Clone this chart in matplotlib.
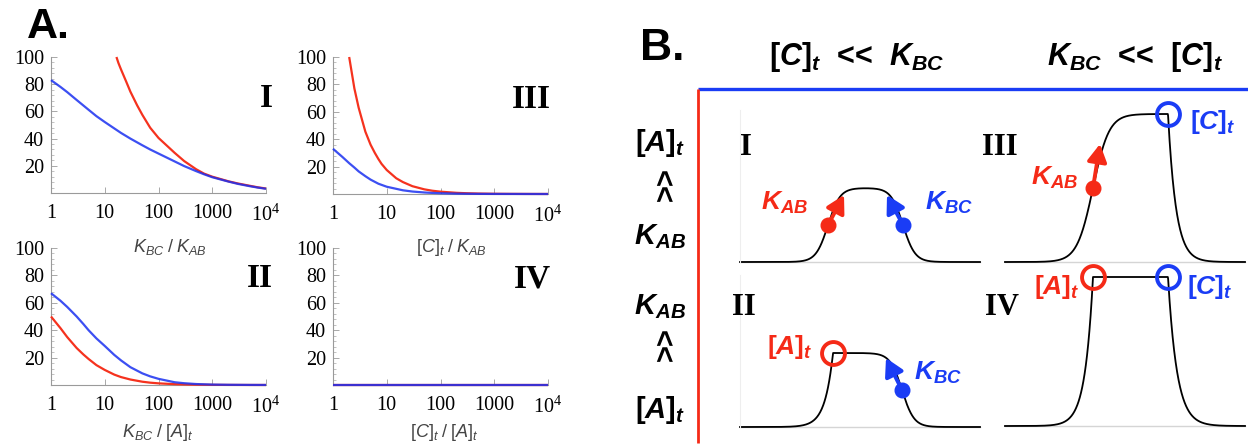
import numpy as np
import matplotlib
matplotlib.use('Agg')
import matplotlib.pyplot as plt
from matplotlib.ticker import LogLocator, MultipleLocator, NullFormatter

plt.rcParams['font.family'] = ['Liberation Serif', 'DejaVu Serif']
plt.rcParams['mathtext.fontset'] = 'custom'
plt.rcParams['mathtext.rm'] = 'Liberation Serif'
plt.rcParams['mathtext.sf'] = 'Liberation Sans'
plt.rcParams['mathtext.it'] = 'Liberation Sans:italic'
plt.rcParams['mathtext.bf'] = 'Liberation Sans:bold'
try:
    plt.rcParams['mathtext.bfit'] = 'Liberation Sans:italic:bold'
except Exception:
    pass

# ---------------- Panel A data ----------------
x_I_blue = [1, 1.5, 2, 3, 5, 7, 10, 20, 30, 50, 70, 100, 200, 300, 500, 700, 1000, 2000, 3000, 5000, 7000, 10000]
blue_I = [83, 78, 74.2, 68.4, 61.2, 56.5, 52.2, 44.2, 40, 35.1, 32, 29, 23.2, 19.8, 16.1, 13.8, 11.6, 8.4, 6.7, 5, 4, 3.1]
x_I_red = [16.5, 18, 20, 25, 30, 40, 50, 70, 100, 200, 300, 500, 700, 1000, 2000, 3000, 5000, 7000, 10000]
red_I = [100, 95.5, 91, 82, 74.5, 64.5, 57.5, 48, 40.5, 29.5, 23.5, 17.5, 14.3, 12, 8.6, 7, 5.3, 4.2, 3.3]

x_III_blue = [1, 1.5, 2, 2.5, 3, 4, 5, 7, 10, 20, 30, 50, 70, 100, 200, 300, 500, 1000, 2000, 5000, 10000]
blue_III = [33, 27, 22.5, 19.3, 16.5, 13, 10.5, 7.5, 5.3, 2.7, 1.8, 1.1, 0.8, 0.55, 0.27, 0.18, 0.1, 0.05, 0.03, 0.01, 0]
x_III_red = [2, 2.5, 3, 4, 5, 6, 7, 8, 10, 15, 20, 30, 50, 70, 100, 200, 300, 500, 1000, 2000, 5000, 10000]
red_III = [100, 77, 63, 45.5, 36, 30, 25.5, 22, 17.5, 11.5, 8.7, 5.7, 3.4, 2.4, 1.7, 0.85, 0.57, 0.34, 0.17, 0.09, 0.04, 0.02]

x_II = [1, 1.5, 2, 3, 4, 5, 7, 10, 15, 20, 30, 50, 70, 100, 200, 300, 500, 1000, 2000, 5000, 10000]
blue_II = [67, 61.5, 57, 50, 44.5, 40, 34, 28.5, 22, 18, 13, 8.5, 6.3, 4.5, 2, 1.3, 0.7, 0.3, 0.15, 0.06, 0.03]
red_II = [50, 41.5, 35, 27, 22.3, 19, 14.5, 11, 7.6, 5.8, 4, 2.4, 1.7, 1.2, 0.6, 0.4, 0.24, 0.12, 0.06, 0.02, 0.01]

x_IV = [1, 10000]
blue_IV = [0, 0]
red_IV = [0, 0]

x_ticks = [1, 10, 100, 1000, 10000]
x_ticklabels = ['1', '10', '100', '1000', r'$\mathrm{10}^{\mathrm{4}}$']
y_ticks = [20, 40, 60, 80, 100]

RED = '#f5321e'
BLUE = '#1a30f0'

W, H = 1248, 448
fig = plt.figure(figsize=(W / 100, H / 100), dpi=100)


def px_axes(l, t, r, b, **kw):
    return fig.add_axes([l / W, 1 - b / H, (r - l) / W, (b - t) / H], **kw)


def style(ax):
    ax.set_xscale('log')
    ax.set_xlim(1, 1e4)
    ax.set_ylim(0, 100)
    for s in ['top', 'right']:
        ax.spines[s].set_visible(False)
    for s in ['left', 'bottom']:
        ax.spines[s].set_color('#9a9a9a')
        ax.spines[s].set_linewidth(0.8)
    ax.set_xticks(x_ticks)
    ax.set_xticklabels(x_ticklabels)
    ax.xaxis.set_minor_locator(LogLocator(base=10, subs=range(2, 10)))
    ax.xaxis.set_minor_formatter(NullFormatter())
    ax.set_yticks(y_ticks)
    ax.yaxis.set_minor_locator(MultipleLocator(4))
    ax.tick_params(which='major', direction='in', length=4, width=0.6, color='#9a9a9a', labelsize=14.5)
    ax.tick_params(which='minor', direction='in', length=2, width=0.5, color='#aaaaaa')
    ax.tick_params(axis='x', pad=8)
    ax.tick_params(axis='y', pad=5)
    ax.patch.set_alpha(0)


panels = [
    ((51, 57, 266, 193), (x_I_blue, blue_I), (x_I_red, red_I), 'I', (273, 107),
     r'$K_{BC}\;\mathsf{/}\;K_{AB}$', (170, 247)),
    ((333, 57, 548, 194), (x_III_blue, blue_III), (x_III_red, red_III), 'III', (551, 108),
     r'$\mathsf{[}C\mathsf{]}_t\;\mathsf{/}\;K_{AB}$', (451, 247)),
    ((51, 248, 266, 385), (x_II, blue_II), (x_II, red_II), 'II', (273, 287),
     r'$K_{BC}\;\mathsf{/}\;\mathsf{[}A\mathsf{]}_t$', (158, 432)),
    ((333, 248, 548, 385), (x_IV, blue_IV), (x_IV, red_IV), 'IV', (551, 287),
     r'$\mathsf{[}C\mathsf{]}_t\;\mathsf{/}\;\mathsf{[}A\mathsf{]}_t$', (444, 432)),
]

for box, (xb, yb), (xr, yr), roman, rpos, xl, xlpos in panels:
    ax = px_axes(*box)
    style(ax)
    ax.plot(xr, yr, color=RED, lw=1.6, clip_on=False, zorder=3, solid_capstyle='butt')
    ax.plot(xb, yb, color=BLUE, lw=1.6, alpha=0.85, clip_on=False, zorder=4, solid_capstyle='butt')
    fig.text(rpos[0] / W, 1 - rpos[1] / H, roman, ha='right', va='baseline',
             fontsize=24, fontweight='bold', family='Liberation Serif')
    fig.text(xlpos[0] / W, 1 - xlpos[1] / H, xl, ha='center', va='center',
             fontsize=13, color='#444444')

fig.text(27 / W, 1 - 38 / H, 'A.', ha='left', va='baseline', fontsize=31,
         fontweight='bold', family='Liberation Sans')

# ---------------- Panel B schematic ----------------
axb = fig.add_axes([0, 0, 1, 1], facecolor='none')
axb.set_xlim(0, W)
axb.set_ylim(H, 0)
axb.axis('off')

BRED = '#f52a17'
BBLUE = '#1a3cf5'

frame_left, frame_top, frame_bottom = 698, 89, 443
axb.plot([frame_left, W], [frame_top, frame_top], color=BBLUE, lw=2.4, solid_capstyle='butt')
axb.plot([frame_left, frame_left], [frame_top, frame_bottom], color=BRED, lw=2.0, solid_capstyle='butt')

sketch_names = ['I', 'III', 'II', 'IV']
sketch_x0 = [740, 1005, 740, 1005]
sketch_x1 = [980, 1245, 980, 1245]
sketch_base = [262, 262, 427, 426]
sketch_height = [74, 148, 74, 149]
sketch_rise = [('smooth', 828, 6), ('smooth', 1093, 8), ('corner', 833, 8), ('corner', 1093, 8)]
sketch_fall = [('smooth', 903, 6), ('corner', 1168, 8), ('smooth', 902, 6), ('corner', 1168, 9)]


def edge(x, kind, c, w, rising):
    if kind == 'smooth':
        s = (x - c) / w
        return 1 / (1 + np.exp(-s)) if rising else 1 / (1 + np.exp(s))
    if rising:
        return np.exp(np.minimum(x - c, 0) / w)
    return np.exp(-np.maximum(x - c, 0) / w)


def profile(i, x):
    r = edge(x, *sketch_rise[i], True)
    f = edge(x, *sketch_fall[i], False)
    return sketch_base[i] - sketch_height[i] * r * f


for i in range(4):
    xs = np.linspace(sketch_x0[i], sketch_x1[i], 800)
    axb.plot([sketch_x0[i], sketch_x1[i]], [sketch_base[i]] * 2, color='#d5d5d5', lw=1.0)
    axb.plot(xs, profile(i, xs), color='black', lw=1.3)
    if sketch_x0[i] == 740:
        axb.plot([740, 740], [sketch_base[i] - 152, sketch_base[i]], color='#eeeeee', lw=0.8)

dot_sketch = [0, 0, 1, 2]
dot_x = [828, 903, 1093, 902]
dot_vec = [(16, -30), (-16, -30), (7, -44), (-16, -32)]
dot_col = [BRED, BBLUE, BRED, BBLUE]
for si, dx, (vx, vy), c in zip(dot_sketch, dot_x, dot_vec, dot_col):
    dy = profile(si, np.array([dx]))[0]
    axb.annotate('', xy=(dx + vx, dy + vy), xytext=(dx, dy),
                 arrowprops=dict(arrowstyle='-|>,head_length=0.75,head_width=0.42', color=c,
                                 lw=2.8, shrinkA=0, shrinkB=0, mutation_scale=14))
    axb.plot([dx], [dy], 'o', color=c, ms=10.5, zorder=5)

circ_sketch = [1, 2, 3, 3]
circ_edge = ['fall', 'rise', 'rise', 'fall']
circ_col = [BBLUE, BRED, BRED, BBLUE]
for si, e, c in zip(circ_sketch, circ_edge, circ_col):
    cx = (sketch_fall if e == 'fall' else sketch_rise)[si][1]
    cy = sketch_base[si] - sketch_height[si]
    axb.plot([cx], [cy], 'o', mfc='none', mec=c, mew=2.8, ms=16.5, zorder=5)

bfont = dict(family='Liberation Sans', fontweight='bold')
KAB = r'$\mathbfit{K}_{\mathbfit{AB}}$'
KBC = r'$\mathbfit{K}_{\mathbfit{BC}}$'
At = r'$\mathbf{[}\mathbfit{A}\mathbf{]}_{\mathbfit{t}}$'
Ct = r'$\mathbf{[}\mathbfit{C}\mathbf{]}_{\mathbfit{t}}$'

lab_txt = [KAB, KBC, KAB, Ct, At, KBC, At, Ct]
lab_x = [808, 925, 1078, 1190, 813, 914, 1080, 1187]
lab_y = [203, 203, 178, 122, 347, 373, 287, 287]
lab_ha = ['right', 'left', 'right', 'left', 'right', 'left', 'right', 'left']
lab_col = [BRED, BBLUE, BRED, BBLUE, BRED, BBLUE, BRED, BBLUE]
for t, x, y, ha, c in zip(lab_txt, lab_x, lab_y, lab_ha, lab_col):
    axb.text(x, y, t, ha=ha, va='center', color=c, fontsize=19, **bfont)

rom_txt = ['I', 'III', 'II', 'IV']
rom_x = [740, 982, 732, 985]
rom_y = [155, 155, 315, 315]
for t, x, y in zip(rom_txt, rom_x, rom_y):
    axb.text(x, y, t, ha='left', va='baseline', fontsize=22, fontweight='bold', family='Liberation Serif')

axb.text(857, 57, Ct + '  <<  ' + KBC, ha='center', va='center', fontsize=22, **bfont)
axb.text(1135, 57, KBC + '  <<  ' + Ct, ha='center', va='center', fontsize=22, **bfont)
axb.text(640, 60, 'B.', ha='left', va='baseline', fontsize=32, **bfont)

row_txt = [At, '<<', KAB, KAB, '<<', At]
row_y = [143, 187, 237, 307, 347, 410]
for t, y in zip(row_txt, row_y):
    rot = -90 if t == '<<' else 0
    axb.text(660, y, t, ha='center', va='center', fontsize=21, rotation=rot, **bfont)

fig.savefig('out.png', dpi=100)
